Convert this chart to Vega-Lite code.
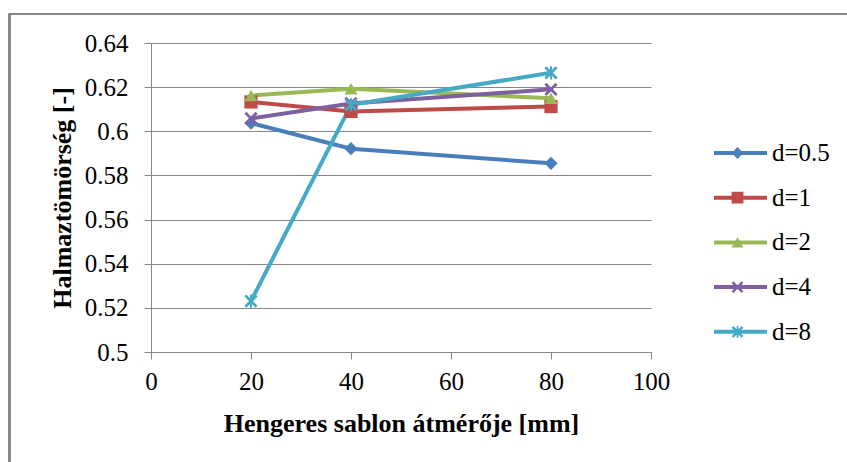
{
  "$schema": "https://vega.github.io/schema/vega-lite/v6.json",
  "width": 500,
  "height": 309,
  "autosize": {"type": "none"},
  "padding": {"left": 151, "top": 43, "right": 196, "bottom": 110},
  "background": "white",
  "config": {
    "font": "Liberation Serif",
    "view": {"stroke": null},
    "axis": {
      "domainColor": "#868686",
      "tickColor": "#868686",
      "gridColor": "#868686",
      "domainWidth": 1,
      "tickWidth": 1,
      "gridWidth": 1,
      "tickSize": 7,
      "labelFont": "Liberation Serif",
      "labelFontSize": 25,
      "labelColor": "black",
      "labelFlush": false,
      "titleFont": "Liberation Serif",
      "titleFontSize": 26,
      "titleFontWeight": "bold",
      "titleColor": "black"
    },
    "legend": {
      "labelFont": "Liberation Serif",
      "labelFontSize": 25,
      "labelColor": "black"
    }
  },
  "data": {
    "values": [
      {"atmero": 20, "tomorseg": 0.6037, "d": "d=0.5"},
      {"atmero": 40, "tomorseg": 0.5921, "d": "d=0.5"},
      {"atmero": 80, "tomorseg": 0.5855, "d": "d=0.5"},
      {"atmero": 20, "tomorseg": 0.6133, "d": "d=1"},
      {"atmero": 40, "tomorseg": 0.6090, "d": "d=1"},
      {"atmero": 80, "tomorseg": 0.6112, "d": "d=1"},
      {"atmero": 20, "tomorseg": 0.6162, "d": "d=2"},
      {"atmero": 40, "tomorseg": 0.6193, "d": "d=2"},
      {"atmero": 80, "tomorseg": 0.6150, "d": "d=2"},
      {"atmero": 20, "tomorseg": 0.6058, "d": "d=4"},
      {"atmero": 40, "tomorseg": 0.6126, "d": "d=4"},
      {"atmero": 80, "tomorseg": 0.6190, "d": "d=4"},
      {"atmero": 20, "tomorseg": 0.5230, "d": "d=8"},
      {"atmero": 40, "tomorseg": 0.6120, "d": "d=8"},
      {"atmero": 80, "tomorseg": 0.6265, "d": "d=8"}
    ]
  },
  "layer": [
    {
      "description": "chart frame, left edge",
      "mark": {"type": "rule", "color": "#868686", "strokeWidth": 1.5},
      "encoding": {
        "x": {"datum": -28.3, "type": "quantitative", "scale": {"domain": [0, 100], "nice": false}},
        "y": {"datum": 0.6532, "type": "quantitative", "scale": {"domain": [0.5, 0.64], "nice": false, "zero": false}},
        "y2": {"datum": 0.44}
      }
    },
    {
      "description": "chart frame, top edge",
      "mark": {"type": "rule", "color": "#868686", "strokeWidth": 1.5},
      "encoding": {
        "x": {"datum": -28.3, "type": "quantitative", "scale": {"domain": [0, 100], "nice": false}},
        "x2": {"datum": 140},
        "y": {"datum": 0.6532, "type": "quantitative", "scale": {"domain": [0.5, 0.64], "nice": false, "zero": false}}
      }
    },
    {
      "mark": {"type": "line", "strokeWidth": 4},
      "encoding": {
        "x": {
          "field": "atmero",
          "type": "quantitative",
          "scale": {"domain": [0, 100], "nice": false},
          "axis": {
            "title": "Hengeres sablon átmérője [mm]",
            "values": [0, 20, 40, 60, 80, 100],
            "grid": false,
            "labelPadding": 10,
            "titlePadding": 16
          }
        },
        "y": {
          "field": "tomorseg",
          "type": "quantitative",
          "scale": {"domain": [0.5, 0.64], "nice": false, "zero": false},
          "axis": {
            "title": "Halmaztömörség [-]",
            "values": [0.5, 0.52, 0.54, 0.56, 0.58, 0.6, 0.62, 0.64],
            "format": ".2~f",
            "grid": true,
            "labelPadding": 16,
            "titlePadding": 9
          }
        },
        "stroke": {
          "field": "d",
          "type": "nominal",
          "scale": {
            "domain": ["d=0.5", "d=1", "d=2", "d=4", "d=8"],
            "range": ["#4A7EBB", "#BE4B48", "#98B954", "#7D60A0", "#46AAC5"]
          },
          "legend": {
            "title": null,
            "orient": "none",
            "legendX": 561,
            "legendY": 100,
            "padding": 0,
            "symbolType": "stroke",
            "symbolSize": 2809,
            "symbolStrokeWidth": 4,
            "clipHeight": 20,
            "rowPadding": 19.7,
            "labelOffset": 3
          }
        }
      }
    },
    {
      "mark": {"type": "point", "filled": true, "opacity": 1, "size": 175},
      "encoding": {
        "x": {"field": "atmero", "type": "quantitative", "scale": {"domain": [0, 100], "nice": false}},
        "y": {"field": "tomorseg", "type": "quantitative", "scale": {"domain": [0.5, 0.64], "nice": false, "zero": false}},
        "fill": {
          "field": "d",
          "type": "nominal",
          "scale": {"range": ["#4A7EBB", "#BE4B48", "#98B954", "#7D60A0", "#46AAC5"]},
          "legend": {
            "title": null,
            "orient": "none",
            "legendX": 574,
            "legendY": 100,
            "padding": 0,
            "symbolSize": 140,
            "clipHeight": 20,
            "rowPadding": 19.7,
            "labelExpr": "''"
          }
        },
        "shape": {
          "field": "d",
          "type": "nominal",
          "scale": {
            "range": [
              "diamond",
              "square",
              "triangle-up",
              "M-1,-0.7L-0.7,-1L1,0.7L0.7,1ZM1,-0.7L-0.7,1L-1,0.7L0.7,-1Z",
              "M-1,-0.7L-0.7,-1L1,0.7L0.7,1ZM1,-0.7L-0.7,1L-1,0.7L0.7,-1ZM-0.15,-1L0.15,-1L0.15,1L-0.15,1Z"
            ]
          },
          "legend": {
            "title": null,
            "orient": "none",
            "legendX": 574,
            "legendY": 100,
            "padding": 0,
            "symbolSize": 140,
            "clipHeight": 20,
            "rowPadding": 19.7,
            "labelExpr": "''"
          }
        }
      }
    }
  ]
}
